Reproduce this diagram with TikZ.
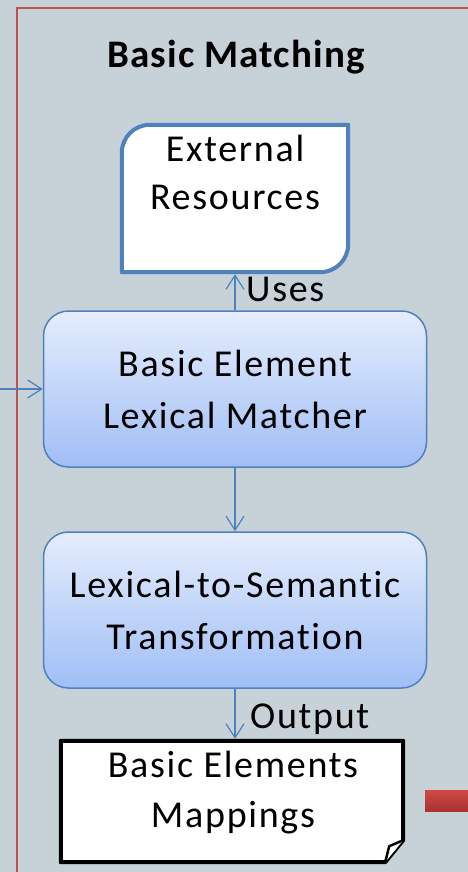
\documentclass[tikz,border=0pt]{standalone}
\usepackage{fontspec}
\setmainfont{Carlito}[LetterSpace=4.5, Ligatures=NoCommon]
\usetikzlibrary{arrows.meta}
\definecolor{panelbg}{RGB}{198,209,216}
\definecolor{framered}{RGB}{192,80,77}
\definecolor{accentblue}{RGB}{79,129,189}
\definecolor{boxtop}{RGB}{229,237,252}
\definecolor{boxbottom}{RGB}{160,190,246}
\definecolor{barred1}{RGB}{208,72,70}
\definecolor{barred2}{RGB}{170,50,48}
\newfontfamily\titlefont{Carlito}[LetterSpace=3, Ligatures=NoCommon]
\begin{document}
\begin{tikzpicture}[x=1pt,y=-1pt,
  flowtext/.style={font=\fontsize{38}{52}\selectfont, align=center},
  stagebox/.style={draw=accentblue, line width=1.5pt, rounded corners=25pt,
    top color=boxtop, bottom color=boxbottom,
    minimum width=383pt, minimum height=156pt, inner sep=0pt, flowtext},
  link/.style={draw=accentblue, line width=1.2pt,
    -{Straight Barb[length=14pt,width=18pt]}},
  edgelabel/.style={font=\fontsize{38}{46}\selectfont, inner sep=0pt}
]
% panel background and frame
\fill[panelbg] (0,0) rectangle (468,872);
\useasboundingbox (0,0) rectangle (468,872);
\draw[framered, line width=1.2pt] (17,872) -- (17,8) -- (468,8);

% title
\node[font=\titlefont\fontsize{39}{42}\selectfont\bfseries, anchor=base, inner sep=0pt] (title) at (236,68) {Basic Matching};

% external resources store (rounded on two diagonal corners)
\node[minimum width=226pt, minimum height=147pt, inner sep=0pt] (ext) at (235,198.5) {};
\draw[accentblue, line width=4pt, fill=white, line join=round]
  (ext.south west) -- (ext.west) [rounded corners=28pt] -- (ext.north west) -- (ext.north)
  [sharp corners] -- (ext.north east) -- (ext.east) [rounded corners=28pt] -- (ext.south east)
  -- (ext.south) [sharp corners] -- cycle;
\node[font=\fontsize{38}{48}\selectfont, align=center, anchor=north, inner sep=0pt] (extlabel)
  at (235,135) {External\\Resources};

% processing stages
\node[stagebox] (bem) at (235,389) {Basic Element\\Lexical Matcher};
\node[stagebox] (lst) at (235,610) {Lexical-to-Semantic\\Transformation};

% output document with folded corner
\node[minimum width=342pt, minimum height=121pt, inner sep=0pt] (doc) at (232,801.5) {};
\draw[black, line width=4pt, fill=white, line join=round]
  (doc.north west) -- (doc.north east) -- ([yshift=22pt]doc.south east)
  -- ([xshift=-18pt]doc.south east) -- (doc.south west) -- cycle;
\draw[black, line width=2.5pt, fill=white, line join=round]
  ([yshift=22pt]doc.south east) -- ([xshift=-14pt,yshift=16pt]doc.south east)
  -- ([xshift=-18pt]doc.south east);
\node[font=\fontsize{38}{50}\selectfont, align=center, anchor=north, inner sep=0pt] (doclabel)
  at (233,751) {Basic Elements\\Mappings};

% connectors
\coordinate (entry) at (0,389);
\draw[link] (entry) -- (bem.west);
\draw[link] (bem.north) -- ([yshift=-2pt]ext.south);
\node[edgelabel, anchor=base west] (useslabel) at (246,301) {Uses};
\draw[link] (bem.south) -- (lst.north);
\draw[link] (lst.south) -- ([yshift=2pt]lst.south |- doc.north);
\node[edgelabel, anchor=base west] (outlabel) at (250,728) {Output};

% outgoing block arrow shaft
\shade[top color=barred1, bottom color=barred2] (425,790) rectangle (468,811);
\end{tikzpicture}
\end{document}
